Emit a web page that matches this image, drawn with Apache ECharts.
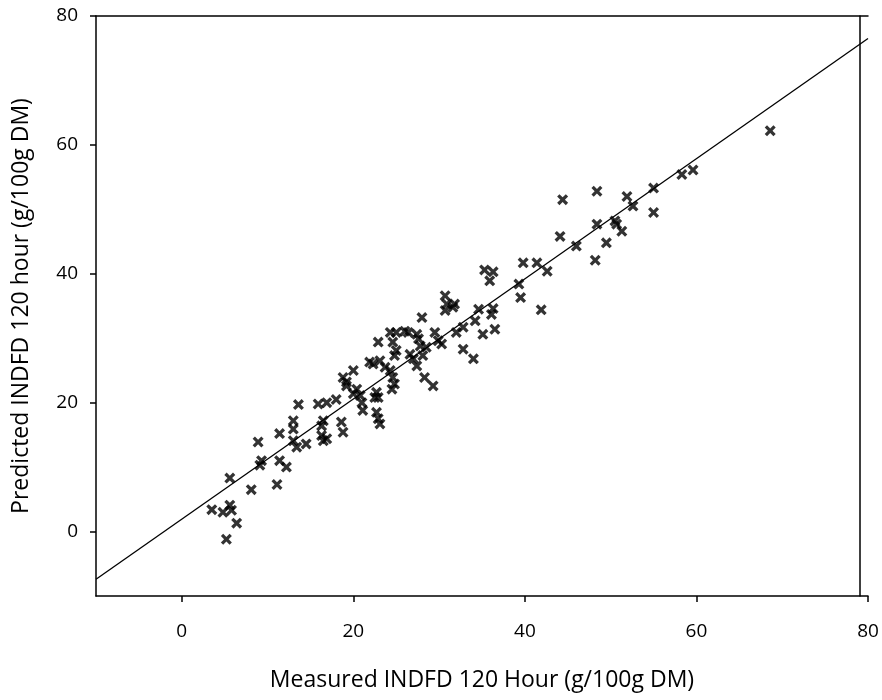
<!DOCTYPE html>
<html>
<head>
<meta charset="utf-8">
<script src="https://cdn.jsdelivr.net/npm/echarts@6/dist/echarts.min.js"></script>
<style>html,body{margin:0;padding:0;background:#fff;}#c{width:882px;height:700px;}</style>
</head>
<body>
<div id="c"></div>
<script>
// Measured (x) and predicted (y) INDFD 120 hour values
const measured = [
  3.5, 4.8, 5.6, 5.8, 6.4, 5.2, 5.6, 8.1, 11.1, 8.9,
  9.3, 9.1, 11.4, 12.2, 11.4, 13.0, 13.0, 13.4, 14.5, 13.0,
  13.6, 15.9, 16.9, 18.0, 16.5, 18.6, 16.3, 16.5, 16.9, 18.8,
  16.3, 19.2, 20.0, 21.0, 21.1, 18.8, 19.2, 20.0, 20.4, 20.8,
  21.9, 22.3, 23.1, 23.7, 24.3, 22.9, 24.6, 24.3, 25.0, 24.6,
  24.8, 24.5, 22.7, 22.9, 22.5, 22.7, 22.9, 23.1, 25.0, 24.8,
  26.0, 26.4, 27.4, 27.6, 27.8, 28.5, 28.1, 26.6, 27.0, 27.4,
  28.0, 29.3, 28.3, 29.5, 29.9, 30.3, 30.7, 30.9, 31.6, 31.8,
  30.7, 32.8, 32.0, 32.8, 34.0, 34.6, 36.3, 36.1, 34.2, 35.1,
  36.5, 35.3, 36.3, 35.9, 39.3, 39.5, 39.8, 41.4, 42.6, 41.9,
  44.1, 46.0, 44.4, 48.4, 48.4, 48.2, 49.5, 50.5, 50.7, 51.3,
  51.9, 52.6, 55.0, 55.0, 58.3, 59.6, 68.6
];
const predicted = [
  3.4, 3.0, 4.1, 3.3, 1.3, -1.2, 8.3, 6.5, 7.3, 13.9,
  11.0, 10.3, 11.0, 10.0, 15.2, 15.9, 14.1, 13.1, 13.6, 17.2,
  19.7, 19.8, 20.0, 20.5, 17.2, 17.0, 14.9, 14.1, 14.4, 15.4,
  16.4, 23.2, 21.4, 20.0, 18.8, 23.9, 22.6, 25.0, 22.1, 21.1,
  26.3, 26.0, 26.5, 25.5, 25.0, 29.4, 29.4, 30.9, 30.9, 23.9,
  22.9, 22.1, 21.6, 20.8, 20.8, 18.5, 17.5, 16.7, 28.1, 27.3,
  31.1, 30.9, 30.6, 29.9, 28.8, 28.6, 27.3, 27.5, 26.8, 25.7,
  33.2, 22.6, 23.9, 30.9, 29.6, 29.1, 36.6, 35.3, 34.8, 35.3,
  34.3, 31.7, 30.9, 28.3, 26.8, 34.5, 34.6, 33.7, 32.7, 30.6,
  31.4, 40.6, 40.3, 38.9, 38.4, 36.3, 41.7, 41.7, 40.4, 34.4,
  45.8, 44.3, 51.5, 52.8, 47.7, 42.1, 44.8, 48.2, 47.7, 46.6,
  52.0, 50.5, 53.3, 49.5, 55.4, 56.1, 62.2
];
// Regression line end points
const lineX = [-10, 80];
const lineY = [-7.4, 76.5];
const tickValues = [0, 20, 40, 60, 80];

const points = measured.map((m, i) => [m, predicted[i]]);
const linePts = lineX.map((x, i) => [x, lineY[i]]);

const FONT = 'Open Sans';
const crossPath = 'path://M0,2.1 L2.1,0 L5,2.9 L7.9,0 L10,2.1 L7.1,5 L10,7.9 L7.9,10 L5,7.1 L2.1,10 L0,7.9 L2.9,5 Z';

const chart = echarts.init(document.getElementById('c'), null, {renderer: 'canvas'});
chart.setOption({
  animation: false,
  backgroundColor: '#ffffff',
  grid: {left: 96, right: 14, top: 16, bottom: 104, containLabel: false},
  xAxis: [{
    type: 'value', min: -10, max: 80,
    name: 'Measured INDFD 120 Hour (g/100g DM)',
    nameLocation: 'middle', nameGap: 73,
    nameTextStyle: {fontFamily: FONT, fontSize: 23, color: '#000'},
    axisLine: {show: true, onZero: false, lineStyle: {color: '#000', width: 1.5}},
    axisTick: {show: true, customValues: tickValues, length: 6, lineStyle: {color: '#000', width: 1.5}},
    axisLabel: {customValues: tickValues, margin: 26, fontFamily: FONT, fontSize: 19, color: '#000'},
    splitLine: {show: false}
  }, {
    type: 'value', min: -10, max: 80, position: 'top',
    axisLine: {show: true, onZero: false, lineStyle: {color: '#000', width: 1.5}},
    axisTick: {show: false}, axisLabel: {show: false}, splitLine: {show: false}
  }],
  yAxis: [{
    type: 'value', min: -10, max: 80,
    name: 'Predicted INDFD 120 hour (g/100g DM)',
    nameLocation: 'middle', nameGap: 63,
    nameTextStyle: {fontFamily: FONT, fontSize: 23, color: '#000'},
    axisLine: {show: true, onZero: false, lineStyle: {color: '#000', width: 1.5}},
    axisTick: {show: true, customValues: tickValues, length: 6, lineStyle: {color: '#000', width: 1.5}},
    axisLabel: {customValues: tickValues, margin: 18, fontFamily: FONT, fontSize: 19, color: '#000'},
    splitLine: {show: false}
  }, {
    type: 'value', min: -10, max: 80, position: 'right', offset: -8,
    axisLine: {show: true, onZero: false, lineStyle: {color: '#000', width: 1.5}},
    axisTick: {show: false}, axisLabel: {show: false}, splitLine: {show: false}
  }],
  series: [{
    type: 'line', data: linePts, symbol: 'none', silent: true,
    lineStyle: {color: '#000', width: 1.3}, z: 1
  }, {
    type: 'scatter', data: points, symbol: crossPath, symbolSize: 11,
    itemStyle: {color: '#000'}, z: 2
  }]
});
</script>
</body>
</html>
